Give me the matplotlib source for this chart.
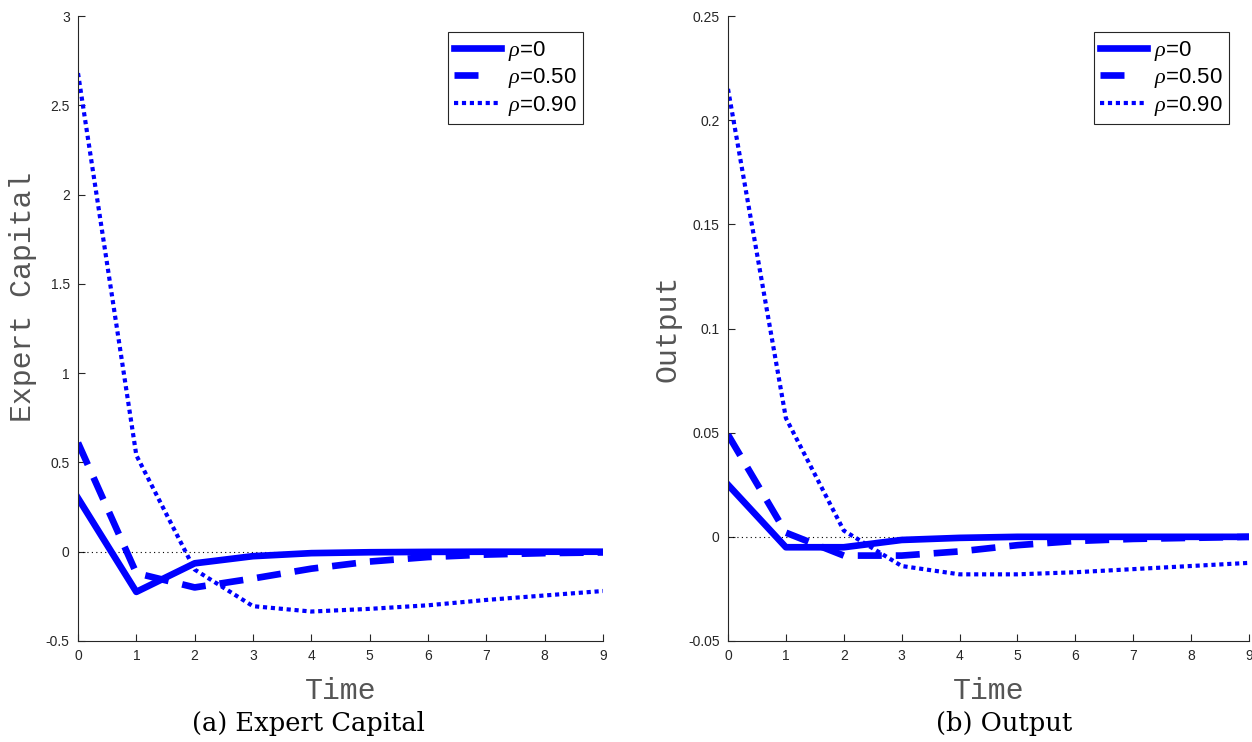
import matplotlib.pyplot as plt
import numpy as np
from matplotlib.lines import Line2D
from matplotlib.ticker import FuncFormatter

# time axis
time = np.arange(10)

# (a) Expert Capital
capital_rho0 = [0.30, -0.225, -0.065, -0.025, -0.008, -0.003, -0.001, 0.0, 0.0, 0.0]
capital_rho50 = [0.61, -0.12, -0.20, -0.15, -0.095, -0.055, -0.03, -0.016, -0.008, -0.004]
capital_rho90 = [2.68, 0.54, -0.10, -0.305, -0.335, -0.32, -0.30, -0.27, -0.245, -0.22]

# (b) Output
output_rho0 = [0.025, -0.005, -0.005, -0.0015, -0.0005, 0.0, 0.0, 0.0, 0.0, 0.0]
output_rho50 = [0.049, 0.002, -0.009, -0.009, -0.007, -0.004, -0.002, -0.001, -0.0005, 0.0]
output_rho90 = [0.215, 0.057, 0.003, -0.014, -0.018, -0.018, -0.017, -0.0155, -0.014, -0.0125]

labels = [r'$\rho$=0', r'$\rho$=0.50', r'$\rho$=0.90']
ylabels = ['Expert Capital', 'Output']
ylabel_pos = [(-0.079, 0.55), (-0.09, 0.5)]
captions = ['(a) Expert Capital', '(b) Output']
ylims = [(-0.5, 3), (-0.05, 0.25)]
yticks = [np.arange(-0.5, 3.01, 0.5), np.arange(-0.05, 0.2501, 0.05)]

plt.rcParams['font.family'] = 'Liberation Sans'
plt.rcParams['mathtext.fontset'] = 'custom'
plt.rcParams['mathtext.it'] = 'Liberation Serif:italic'

fig = plt.figure(figsize=(12.52, 7.42), dpi=100)
ax1 = fig.add_axes([78 / 1252, 1 - 641 / 742, 525 / 1252, 625 / 742])
ax2 = fig.add_axes([728 / 1252, 1 - 641 / 742, 521 / 1252, 625 / 742])

blue = '#0000ff'
lw_thick = 4.8
lw_dot = 3.0
data = [(capital_rho0, capital_rho50, capital_rho90),
        (output_rho0, output_rho50, output_rho90)]

# legend proxies (MATLAB shows one dash only in the legend sample)
handles = [Line2D([], [], color=blue, lw=lw_thick),
           Line2D([], [], color=blue, lw=lw_thick, dashes=(3.6, 6)),
           Line2D([], [], color=blue, lw=lw_dot, dashes=(1, 0.9))]

for i, ax in enumerate([ax1, ax2]):
    s0, s50, s90 = data[i]
    ax.plot([0, 9], [0, 0], color='black', lw=0.8, linestyle=(0, (1, 3)))
    ax.plot(time, s0, color=blue, lw=lw_thick)
    ax.plot(time, s50, color=blue, lw=lw_thick, dashes=(3.6, 2.1))
    ax.plot(time, s90, color=blue, lw=lw_dot, dashes=(1, 0.9))

    ax.set_xlim(0, 9)
    ax.set_ylim(*ylims[i])
    ax.set_xticks(time)
    ax.set_yticks(yticks[i])
    ax.yaxis.set_major_formatter(FuncFormatter(lambda v, p: '%g' % round(v, 4)))
    ax.spines['top'].set_visible(False)
    ax.spines['right'].set_visible(False)
    for sp in ['left', 'bottom']:
        ax.spines[sp].set_color('#262626')
        ax.spines[sp].set_linewidth(0.8)
    ax.tick_params(direction='in', length=5, width=0.8, colors='#262626',
                   labelsize=10, pad=6)

    ax.set_xlabel('Time', family='Liberation Mono', fontsize=21.5, color='#555555')
    ax.set_ylabel(ylabels[i], family='Liberation Mono', fontsize=21.5, color='#555555')
    ax.xaxis.set_label_coords(0.5, -0.058)
    ax.yaxis.set_label_coords(*ylabel_pos[i])

    leg = ax.legend(handles, labels, loc='upper right', bbox_to_anchor=(0.962, 0.974),
                    borderaxespad=0, fontsize=16, handlelength=2.1, handletextpad=0.3,
                    labelspacing=0.15, borderpad=0.3, fancybox=False, framealpha=1)
    leg.get_frame().set_edgecolor('#262626')
    leg.get_frame().set_linewidth(0.8)

fig.text(308 / 1252, 1 - 724 / 742, captions[0], family='DejaVu Serif',
         fontsize=18.5, ha='center', va='center')
fig.text(1004 / 1252, 1 - 724 / 742, captions[1], family='DejaVu Serif',
         fontsize=18.5, ha='center', va='center')

fig.savefig('out.png', dpi=100)
